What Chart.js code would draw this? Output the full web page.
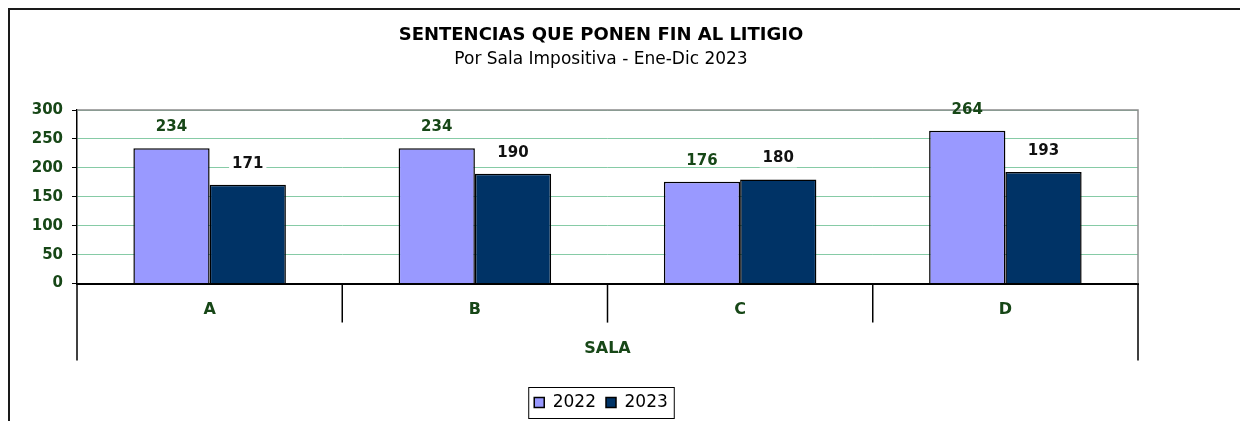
<!DOCTYPE html>
<html>
<head>
<meta charset="utf-8">
<script src="https://cdn.jsdelivr.net/npm/chart.js@4.4.1/dist/chart.umd.min.js"></script>
<style>
  html, body { margin: 0; padding: 0; background: #fff; }
  #contenedor { width: 1240px; height: 421px; }
</style>
</head>
<body>
<div id="contenedor"><canvas id="grafico"></canvas></div>
<script>
// datos del grafico
const salas = ['A', 'B', 'C', 'D'];
const anios = ['2022', '2023'];
const valores2022 = [234, 234, 176, 264];
const valores2023 = [171, 190, 180, 193];
const ticksY = [0, 50, 100, 150, 200, 250, 300];

const verde = '#174717';
const fuente = 'DejaVu Sans';

// marco exterior, borde del area, separadores de categorias y etiquetas
const extras = {
  id: 'extras',
  beforeDraw(chart) {
    const ctx = chart.ctx;
    ctx.save();
    ctx.fillStyle = '#fff';
    ctx.fillRect(0, 0, chart.width, chart.height);
    ctx.strokeStyle = '#1a1a1a';
    ctx.lineWidth = 2;
    ctx.beginPath();
    ctx.moveTo(9, chart.height);
    ctx.lineTo(9, 9);
    ctx.lineTo(chart.width, 9);
    ctx.stroke();
    ctx.restore();
  },
  afterDraw(chart) {
    const ctx = chart.ctx;
    const area = chart.chartArea;
    const x = chart.scales.x;
    ctx.save();
    // borde superior y derecho gris del area de trazado
    ctx.strokeStyle = '#8c8c8c';
    ctx.lineWidth = 1.5;
    ctx.beginPath();
    ctx.moveTo(area.left, area.top);
    ctx.lineTo(area.right, area.top);
    ctx.lineTo(area.right, area.bottom);
    ctx.stroke();
    // separadores de categorias
    ctx.strokeStyle = '#000';
    ctx.lineWidth = 1.5;
    for (let i = 0; i <= salas.length; i++) {
      const px = x.getPixelForValue(i - 0.5);
      const largo = (i === 0 || i === salas.length) ? 77 : 39;
      ctx.beginPath();
      ctx.moveTo(px, area.bottom);
      ctx.lineTo(px, area.bottom + largo);
      ctx.stroke();
    }
    // etiquetas de datos
    ctx.font = 'bold 15px "' + fuente + '"';
    ctx.textAlign = 'center';
    ctx.textBaseline = 'middle';
    chart.data.datasets.forEach((ds, d) => {
      const meta = chart.getDatasetMeta(d);
      meta.data.forEach((barra, i) => {
        const txt = String(ds.data[i]);
        const ty = barra.y - 21;
        if (d === 1) {
          const w = ctx.measureText(txt).width;
          ctx.fillStyle = '#fff';
          ctx.fillRect(barra.x - w / 2 - 3, ty - 9, w + 6, 18);
          ctx.fillStyle = '#111';
        } else {
          ctx.fillStyle = verde;
        }
        ctx.fillText(txt, barra.x, ty);
      });
    });
    // recuadro de la leyenda
    const cajas = chart.legend.legendHitBoxes;
    if (cajas && cajas.length) {
      const izq = Math.min(...cajas.map(c => c.left)) - 6;
      const der = Math.max(...cajas.map(c => c.left + c.width)) + 6;
      const arr = Math.min(...cajas.map(c => c.top)) - 7;
      const aba = Math.max(...cajas.map(c => c.top + c.height)) + 7;
      ctx.strokeStyle = '#000';
      ctx.lineWidth = 1;
      ctx.strokeRect(izq + 0.5, arr + 0.5, der - izq, aba - arr);
    }
    ctx.restore();
  }
};

const ctx = document.getElementById('grafico').getContext('2d');
const grafico = new Chart(ctx, {
  type: 'bar',
  data: {
    labels: salas,
    datasets: [{
      label: anios[0],
      data: valores2022,
      backgroundColor: '#9999ff',
      borderColor: '#000',
      borderWidth: 1.5
    }, {
      label: anios[1],
      data: valores2023,
      backgroundColor: '#003366',
      borderColor: '#000',
      borderWidth: 1.5
    }]
  },
  options: {
    responsive: true,
    maintainAspectRatio: false,
    animation: false,
    categoryPercentage: 0.575,
    barPercentage: 1,
    layout: { padding: { left: 20, right: 58, top: 12, bottom: 0 } },
    plugins: {
      title: {
        display: true,
        text: 'SENTENCIAS QUE PONEN FIN AL LITIGIO',
        color: '#000',
        font: { family: fuente, size: 18, weight: 'bold' },
        padding: { top: 13, bottom: 3 }
      },
      subtitle: {
        display: true,
        text: 'Por Sala Impositiva - Ene-Dic 2023',
        color: '#000',
        font: { family: fuente, size: 17 },
        padding: { top: 0, bottom: 40 }
      },
      legend: {
        position: 'bottom',
        labels: {
          boxWidth: 10,
          boxHeight: 10,
          color: '#000',
          font: { family: fuente, size: 17 },
          padding: 10
        }
      },
      tooltip: { enabled: false }
    },
    scales: {
      x: {
        grid: { drawOnChartArea: false, drawTicks: false },
        border: { color: '#000', width: 2 },
        ticks: {
          color: verde,
          font: { family: fuente, size: 16, weight: 'bold' },
          padding: 17
        },
        title: {
          display: true,
          text: 'SALA',
          color: verde,
          font: { family: fuente, size: 16, weight: 'bold' },
          padding: { top: 2, bottom: 26 }
        }
      },
      y: {
        min: ticksY[0],
        max: ticksY[ticksY.length - 1],
        afterFit(s) { s.width = 57; },
        grid: {
          color: '#86cba6',
          lineWidth: 1,
          tickColor: '#000',
          tickLength: 5
        },
        border: { color: '#000', width: 1.5 },
        ticks: {
          stepSize: ticksY[1] - ticksY[0],
          color: verde,
          font: { family: fuente, size: 15, weight: 'bold' },
          padding: 9
        }
      },
      // eje vacio a la derecha, solo para dejar el margen del grafico original
      yDer: {
        position: 'right',
        min: ticksY[0],
        max: ticksY[ticksY.length - 1],
        afterFit(s) { s.width = 44; },
        grid: { display: false },
        border: { display: false },
        ticks: { display: false }
      }
    }
  },
  plugins: [extras]
});
</script>
</body>
</html>
